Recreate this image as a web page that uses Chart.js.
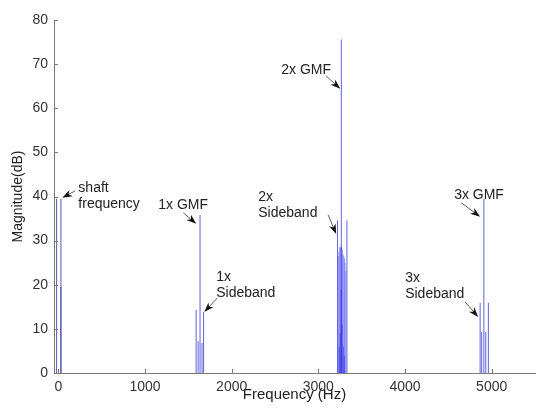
<!DOCTYPE html>
<html>
<head>
<meta charset="utf-8">
<script src="https://cdn.jsdelivr.net/npm/chart.js@4/dist/chart.umd.min.js"></script>
<style>
  html, body { margin: 0; padding: 0; background: #fff; }
  #wrap { width: 539px; height: 408px; }
</style>
</head>
<body>
<div id="wrap"><canvas id="spectrumChart"></canvas></div>
<script>
// Spectral lines (frequency in Hz, magnitude in dB)
const shaftFreqs = [-20, 30, 30];
const shaftMags = [39.5, 39.5, 19.5];

const gmf1Freqs = [1590, 1613, 1635, 1658, 1676];
const gmf1Mags = [14.3, 7.2, 35.8, 6.8, 13.8];

const gmf2Freqs = [3222, 3265, 3330];
const gmf2Mags = [34.6, 75.6, 34.6];

// dense sideband family around 2x GMF
const cluster2Freqs = [3230, 3238, 3246, 3254, 3262, 3270, 3278, 3286, 3294, 3302, 3310, 3318];
const cluster2Mags = [26.5, 27.5, 28.5, 28.5, 29, 28.5, 28, 27, 26.5, 26, 25, 23];
const cluster2LowFreqs = [3240, 3252, 3262, 3274, 3288, 3300];
const cluster2LowMags = [6, 9, 19, 11, 6, 4];

const gmf3Freqs = [4867, 4885, 4910, 4932, 4962];
const gmf3Mags = [15.9, 9.3, 39.5, 9.3, 15.9];

const yTicks = [0, 10, 20, 30, 40, 50, 60, 70, 80];
const xTicks = [0, 1000, 2000, 3000, 4000, 5000];

// callouts: text lines, text anchor and arrow (data units)
const callouts = [
    { lines: ['shaft', 'frequency'], at: [231, 41.9], from: [196, 41.3], to: [46, 39.7] },
    { lines: ['1x GMF'], at: [1153, 38.1], from: [1442, 36.3], to: [1592, 33.8] },
    { lines: ['1x', 'Sideband'], at: [1822, 21.8], from: [1834, 17.0], to: [1684, 13.8] },
    { lines: ['2x GMF'], at: [2572, 68.7], from: [3091, 67.3], to: [3253, 64.4] },
    { lines: ['2x', 'Sideband'], at: [2307, 39.9], from: [3114, 35.8], to: [3206, 31.5] },
    { lines: ['3x GMF'], at: [4567, 40.4], from: [4648, 38.6], to: [4867, 35.4] },
    { lines: ['3x', 'Sideband'], at: [4002, 21.5], from: [4694, 16.1], to: [4844, 12.7] }
];

const FONT = '"Liberation Sans", Arial, Helvetica, sans-serif';

// Turn each line into a vertical stem: (f,0) -> (f,mag), then a gap
function stems(freqs, mags) {
    const pts = [];
    freqs.forEach((f, i) => {
        pts.push({ x: f, y: 0 });
        pts.push({ x: f, y: mags[i] });
        pts.push({ x: f, y: null });
    });
    return pts;
}

function stemSet(freqs, mags, color) {
    return {
        data: stems(freqs, mags),
        borderColor: color,
        borderWidth: 1,
        pointRadius: 0,
        spanGaps: false,
        tension: 0
    };
}

// inward tick marks and arrow callouts
const decorPlugin = {
    id: 'decor',
    afterDraw(chart) {
        const ctx = chart.ctx;
        const xs = chart.scales.x;
        const ys = chart.scales.y;
        const area = chart.chartArea;

        ctx.save();
        ctx.strokeStyle = '#7a7a7a';
        ctx.lineWidth = 1;
        ctx.beginPath();
        yTicks.forEach(v => {
            const py = Math.round(ys.getPixelForValue(v)) + 0.5;
            ctx.moveTo(area.left, py);
            ctx.lineTo(area.left + 4, py);
        });
        xTicks.forEach(v => {
            const px = Math.round(xs.getPixelForValue(v)) + 0.5;
            ctx.moveTo(px, area.bottom);
            ctx.lineTo(px, area.bottom - 4);
        });
        ctx.stroke();

        ctx.font = '14px ' + FONT;
        ctx.fillStyle = '#222';
        ctx.textAlign = 'left';
        ctx.textBaseline = 'middle';
        callouts.forEach(c => {
            const tx = xs.getPixelForValue(c.at[0]);
            const ty = ys.getPixelForValue(c.at[1]);
            c.lines.forEach((t, i) => ctx.fillText(t, tx, ty + i * 16));

            const x1 = xs.getPixelForValue(c.from[0]);
            const y1 = ys.getPixelForValue(c.from[1]);
            const x2 = xs.getPixelForValue(c.to[0]);
            const y2 = ys.getPixelForValue(c.to[1]);
            const ang = Math.atan2(y2 - y1, x2 - x1);
            ctx.strokeStyle = '#333';
            ctx.lineWidth = 0.8;
            ctx.beginPath();
            ctx.moveTo(x1, y1);
            ctx.lineTo(x2 - 6 * Math.cos(ang), y2 - 6 * Math.sin(ang));
            ctx.stroke();
            ctx.fillStyle = '#111';
            ctx.beginPath();
            ctx.moveTo(x2, y2);
            ctx.lineTo(x2 - 10 * Math.cos(ang) + 3.5 * Math.sin(ang), y2 - 10 * Math.sin(ang) - 3.5 * Math.cos(ang));
            ctx.lineTo(x2 - 7 * Math.cos(ang), y2 - 7 * Math.sin(ang));
            ctx.lineTo(x2 - 10 * Math.cos(ang) - 3.5 * Math.sin(ang), y2 - 10 * Math.sin(ang) + 3.5 * Math.cos(ang));
            ctx.closePath();
            ctx.fill();
            ctx.fillStyle = '#222';
        });
        ctx.restore();
    }
};

const lineBlue = 'rgba(70, 70, 215, 0.85)';
const fillBlue = 'rgba(55, 55, 245, 0.45)';
const darkBlue = 'rgba(20, 20, 200, 0.6)';

new Chart(document.getElementById('spectrumChart'), {
    type: 'line',
    data: {
        datasets: [
            stemSet(shaftFreqs, shaftMags, 'rgba(60, 60, 160, 0.85)'),
            stemSet(gmf1Freqs, gmf1Mags, lineBlue),
            stemSet(cluster2Freqs, cluster2Mags, fillBlue),
            stemSet(cluster2LowFreqs, cluster2LowMags, darkBlue),
            stemSet(gmf2Freqs, gmf2Mags, lineBlue),
            stemSet(gmf3Freqs, gmf3Mags, lineBlue)
        ]
    },
    options: {
        responsive: true,
        maintainAspectRatio: false,
        animation: false,
        layout: { padding: { top: 20, right: 4, left: 0, bottom: 0 } },
        plugins: {
            legend: { display: false },
            tooltip: { enabled: false }
        },
        scales: {
            x: {
                type: 'linear',
                min: -50,
                max: 5500,
                afterBuildTicks: scale => {
                    scale.ticks = xTicks.map(v => ({ value: v }));
                },
                afterFit: scale => { scale.height = 35; },
                grid: { display: true, drawOnChartArea: false, drawTicks: false },
                border: { display: true, color: '#7a7a7a', width: 1 },
                ticks: {
                    padding: 6,
                    color: '#333',
                    font: { family: FONT, size: 14 },
                    maxRotation: 0,
                    callback: value => String(value)
                },
                title: {
                    display: true,
                    text: 'Frequency (Hz)',
                    color: '#222',
                    font: { family: FONT, size: 15 },
                    padding: { top: 0, bottom: 4 }
                }
            },
            y: {
                min: 0,
                max: 80,
                afterBuildTicks: scale => {
                    scale.ticks = yTicks.map(v => ({ value: v }));
                },
                afterFit: scale => { scale.width = 54; },
                grid: { display: true, drawOnChartArea: false, drawTicks: false },
                border: { display: true, color: '#7a7a7a', width: 1 },
                ticks: {
                    padding: 6,
                    color: '#333',
                    font: { family: FONT, size: 14 }
                },
                title: {
                    display: true,
                    text: 'Magnitude(dB)',
                    color: '#222',
                    font: { family: FONT, size: 14 },
                    padding: { top: 10, bottom: 0 }
                }
            }
        }
    },
    plugins: [decorPlugin]
});
</script>
</body>
</html>
